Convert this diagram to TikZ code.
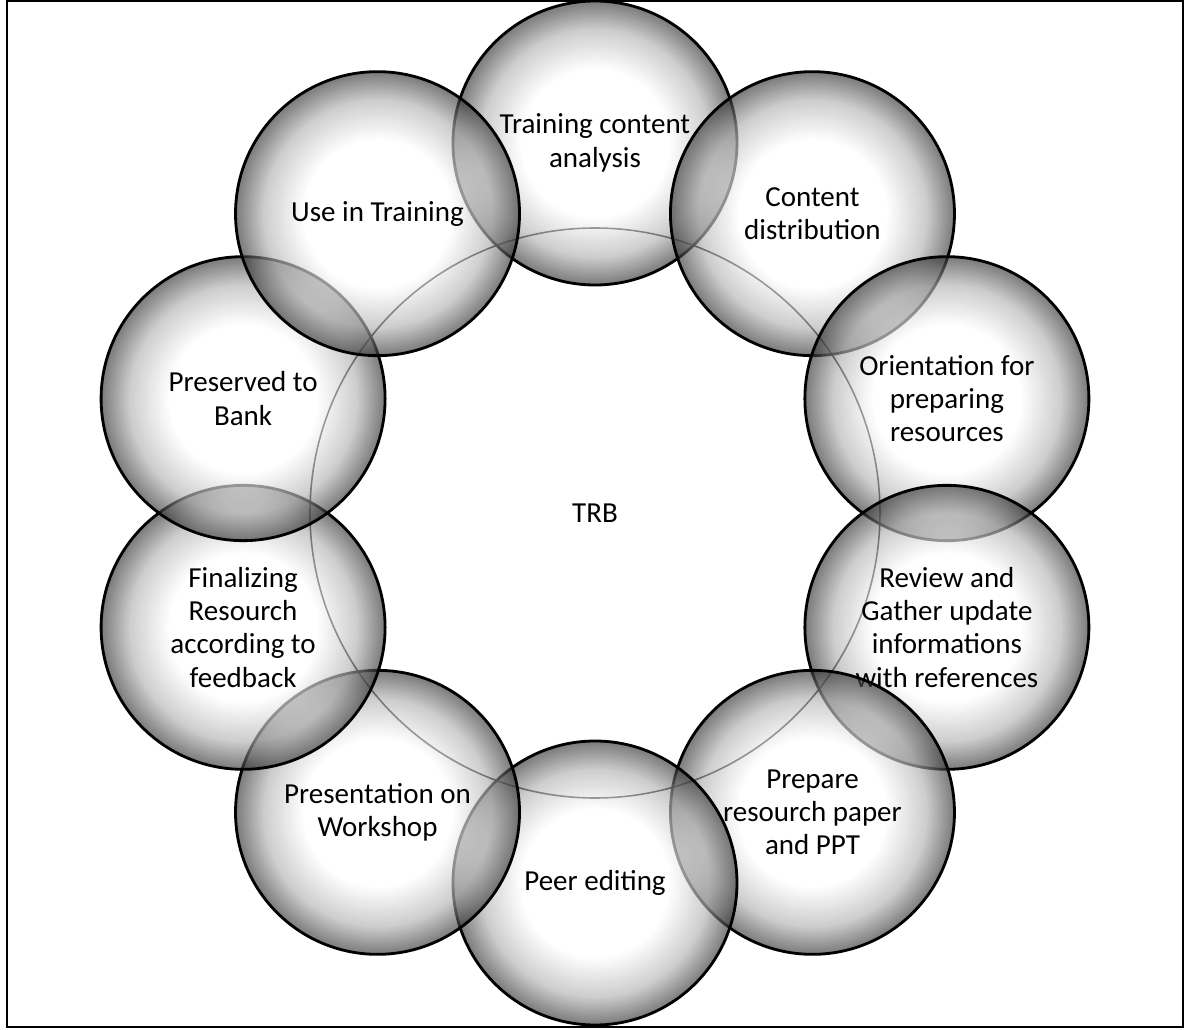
\documentclass[tikz,border=0pt]{standalone}
\usepackage{fontspec}
\setmainfont{Carlito}
\usepackage{tikz}
\usepackage{xcolor}

\pgfdeclareradialshading{sphere}{\pgfpoint{0cm}{0cm}}{color(0bp)=(white); color(13bp)=(white); color(20bp)=(black!30); color(25bp)=(black!80); color(50bp)=(black!80)}
\newcommand{\ballfont}{\fontsize{16.5}{19}\selectfont}

\begin{document}
\begin{tikzpicture}[
    ball/.style={circle, draw=black, line width=1.6pt, shade, shading=sphere, fill opacity=0.65, text opacity=1, minimum size=5.68cm, align=center, font=\ballfont},
    hub/.style={circle, draw=black, line width=0.9pt, minimum size=11.4cm, font=\ballfont}
]
\useasboundingbox (-11.9,-10.34) rectangle (11.9,10.26);
\draw[line width=0.9pt] (-11.76,10.24) rectangle (11.76,-10.28);

\node[hub] (trb) at (0,0) {TRB};

\node[ball] (b1) at (90:7.4) {Training content\\analysis};
\node[ball] (b2) at (54:7.4) {Content\\distribution};
\node[ball] (b3) at (18:7.4) {Orientation for\\preparing\\resources};
\node[ball] (b4) at (-18:7.4) {Review and\\Gather update\\informations\\with references};
\node[ball] (b5) at (-54:7.4) {Prepare\\resourch paper\\and PPT};
\node[ball] (b6) at (-90:7.4) {Peer editing};
\node[ball] (b7) at (-126:7.4) {Presentation on\\Workshop};
\node[ball] (b8) at (-162:7.4) {Finalizing\\Resourch\\according to\\feedback};
\node[ball] (b9) at (162:7.4) {Preserved to\\Bank};
\node[ball] (b10) at (126:7.4) {Use in Training};
\end{tikzpicture}
\end{document}
